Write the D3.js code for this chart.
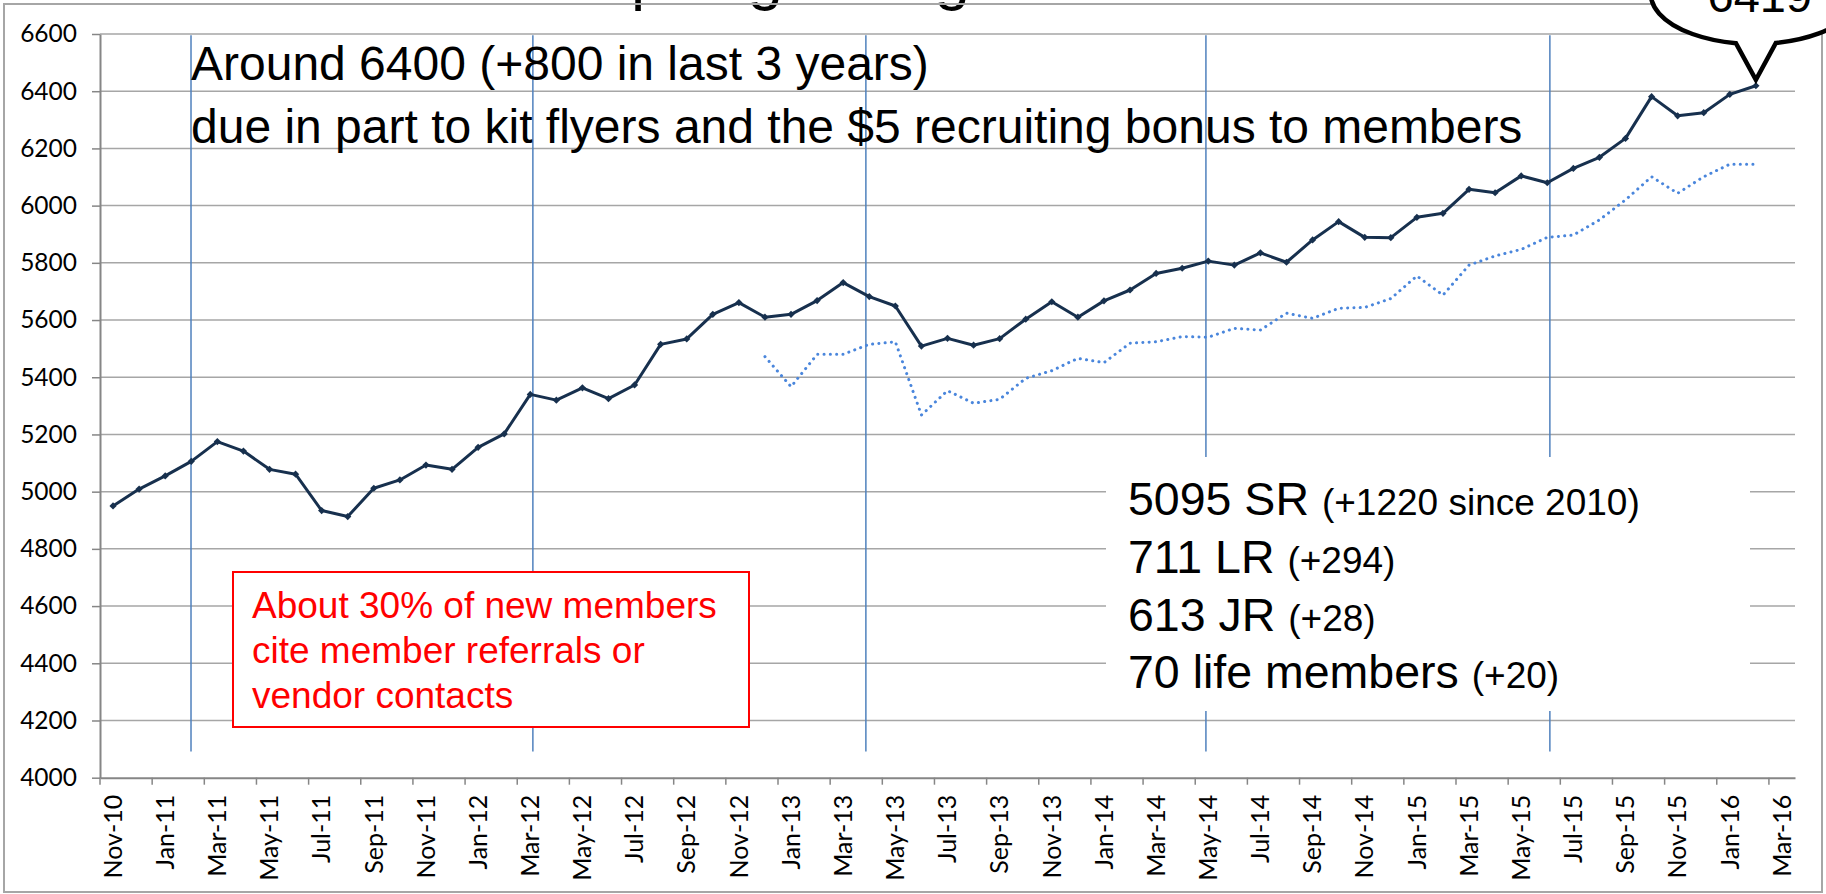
<!DOCTYPE html>
<html>
<head>
<meta charset="utf-8">
<script src="https://cdn.jsdelivr.net/npm/d3@7"></script>
<style>
  html, body { margin: 0; padding: 0; background: #fff; overflow: hidden; }
  svg { display: block; }
  .axis text { font-family: Lato, "Open Sans", sans-serif; fill: #000; }
  .note { font-family: "Liberation Sans", Arial, sans-serif; }
</style>
</head>
<body>
<svg id="chart" width="1826" height="894"></svg>
<script>
// ── Data ──────────────────────────────────
const categories = [
  "Nov-10","Dec-10","Jan-11","Feb-11","Mar-11","Apr-11","May-11","Jun-11","Jul-11","Aug-11","Sep-11","Oct-11",
  "Nov-11","Dec-11","Jan-12","Feb-12","Mar-12","Apr-12","May-12","Jun-12","Jul-12","Aug-12","Sep-12","Oct-12",
  "Nov-12","Dec-12","Jan-13","Feb-13","Mar-13","Apr-13","May-13","Jun-13","Jul-13","Aug-13","Sep-13","Oct-13",
  "Nov-13","Dec-13","Jan-14","Feb-14","Mar-14","Apr-14","May-14","Jun-14","Jul-14","Aug-14","Sep-14","Oct-14",
  "Nov-14","Dec-14","Jan-15","Feb-15","Mar-15","Apr-15","May-15","Jun-15","Jul-15","Aug-15","Sep-15","Oct-15",
  "Nov-15","Dec-15","Jan-16","Feb-16","Mar-16"
];

const tickLabels = [
  "Nov-10","Jan-11","Mar-11","May-11","Jul-11","Sep-11","Nov-11","Jan-12","Mar-12","May-12","Jul-12",
  "Sep-12","Nov-12","Jan-13","Mar-13","May-13","Jul-13","Sep-13","Nov-13","Jan-14","Mar-14","May-14",
  "Jul-14","Sep-14","Nov-14","Jan-15","Mar-15","May-15","Jul-15","Sep-15","Nov-15","Jan-16","Mar-16"
];

const yTicks = [4000,4200,4400,4600,4800,5000,5200,5400,5600,5800,6000,6200,6400,6600];

// total members, Nov-10 .. Feb-16
const members = [
  4950,5009,5055,5106,5175,5142,5078,5061,4934,4913,5012,5041,
  5093,5078,5155,5202,5340,5320,5363,5325,5373,5515,5534,5620,
  5661,5610,5620,5668,5731,5682,5649,5509,5536,5512,5535,5603,
  5664,5610,5667,5705,5763,5781,5806,5792,5835,5802,5880,5944,
  5889,5888,5959,5973,6057,6045,6104,6080,6130,6169,6235,6381,
  6314,6325,6389,6419
];

// dotted series, starts Dec-12
const prevYear = [
  null,null,null,null,null,null,null,null,null,null,null,null,
  null,null,null,null,null,null,null,null,null,null,null,null,
  null,5472,5367,5480,5480,5515,5524,5268,5353,5309,5323,5396,
  5423,5466,5451,5519,5524,5542,5540,5571,5565,5624,5606,5641,
  5644,5675,5754,5687,5792,5824,5847,5889,5897,5950,6020,6101,
  6043,6101,6145,6145
];

// yearly markers (position in months from Nov-10)
const yearMarks = [3.49, 16.6, 29.37, 42.41, 55.6];

const headline = ["Around 6400 (+800 in last 3 years)",
                  "due in part to kit flyers and the $5 recruiting bonus to members"];
const redNote  = ["About 30% of new members", "cite member referrals or", "vendor contacts"];
const stats = [
  ["5095 SR", "(+1220 since 2010)"],
  ["711 LR",  "(+294)"],
  ["613 JR",  "(+28)"],
  ["70 life members", "(+20)"]
];

// ── Layout ────────────────────────────────
const W = 1826, H = 894;
const plot = { left: 100, right: 1795, top: 34, bottom: 777.7 };

const svg = d3.select('#chart');

const x = d3.scaleBand().domain(categories).range([plot.left, plot.right]).padding(0);
const xm = d3.scaleLinear().domain([0, categories.length]).range([plot.left, plot.right]);
const y = d3.scaleLinear().domain([4000, 6600]).range([plot.bottom, plot.top]);
const bw = x.bandwidth();
const cx = i => x(categories[i]) + bw / 2;

// slide title, only its descenders fall inside the crop
svg.append('text').attr('class', 'note')
  .attr('x', 317).attr('y', -2.5)
  .attr('font-size', 63.5).attr('fill', '#000')
  .text('Membership is growing');

// outer frame
svg.append('rect')
  .attr('x', 4).attr('y', 4).attr('width', W - 8).attr('height', H - 6)
  .attr('fill', 'none').attr('stroke', '#a6a6a6').attr('stroke-width', 2);

// ── Grid ──────────────────────────────────
svg.append('g').selectAll('line').data(yTicks.slice(1)).join('line')
  .attr('x1', plot.left).attr('x2', plot.right)
  .attr('y1', d => y(d)).attr('y2', d => y(d))
  .attr('stroke', '#a6a6a6').attr('stroke-width', 1.5);

// ── Axes ──────────────────────────────────
const yAxis = svg.append('g').attr('class', 'axis')
  .attr('transform', `translate(${plot.left},0)`)
  .call(d3.axisLeft(y).tickValues(yTicks).tickFormat(d3.format('d'))
    .tickSize(8).tickSizeOuter(0).tickPadding(15));
yAxis.select('.domain').attr('stroke', '#868686').attr('stroke-width', 2);
yAxis.selectAll('.tick line').attr('stroke', '#868686').attr('stroke-width', 1.5);
yAxis.selectAll('.tick text').attr('font-size', 24.5);

const xAxis = svg.append('g').attr('class', 'axis')
  .attr('transform', `translate(0,${plot.bottom})`)
  .call(d3.axisBottom(x).tickValues(tickLabels).tickSize(7).tickSizeOuter(0));
xAxis.select('.domain').attr('stroke', '#868686').attr('stroke-width', 2);
xAxis.selectAll('.tick line')
  .attr('x1', -bw / 2).attr('x2', -bw / 2)
  .attr('stroke', '#868686').attr('stroke-width', 1.5);
xAxis.selectAll('.tick text')
  .attr('font-size', 25)
  .attr('transform', 'rotate(-90)')
  .attr('text-anchor', 'end')
  .attr('x', -17).attr('y', 0).attr('dy', '0.35em');

// ── Yearly markers ────────────────────────
svg.append('g').selectAll('line').data(yearMarks).join('line')
  .attr('x1', d => xm(d)).attr('x2', d => xm(d))
  .attr('y1', y(6596)).attr('y2', y(4092))
  .attr('stroke', '#4f81bd').attr('stroke-width', 1.5);

// ── Series ────────────────────────────────
const line = d3.line()
  .defined(d => d.v != null)
  .x(d => cx(d.i)).y(d => y(d.v));

const prevPts = prevYear.map((v, i) => ({ i, v }));
svg.append('path').datum(prevPts)
  .attr('d', line)
  .attr('fill', 'none').attr('stroke', '#4a86dc')
  .attr('stroke-width', 3).attr('stroke-linecap', 'round')
  .attr('stroke-dasharray', '0.1 6.2');

const memPts = members.map((v, i) => ({ i, v }));
svg.append('path').datum(memPts)
  .attr('d', line)
  .attr('fill', 'none').attr('stroke', '#17304e')
  .attr('stroke-width', 3).attr('stroke-linejoin', 'round');

svg.append('g').selectAll('path').data(memPts).join('path')
  .attr('transform', d => `translate(${cx(d.i)},${y(d.v)})`)
  .attr('d', 'M0,-3.6 L3.6,0 L0,3.6 L-3.6,0 Z')
  .attr('fill', '#17304e');

// ── Annotations ───────────────────────────
const head = svg.append('text').attr('class', 'note')
  .attr('font-size', 48).attr('fill', '#000');
head.selectAll('tspan').data(headline).join('tspan')
  .attr('x', xm(yearMarks[0]))
  .attr('y', (d, i) => 80 + i * 63)
  .text(d => d);

// red note box
const rb = svg.append('g');
rb.append('rect')
  .attr('x', 233).attr('y', 572).attr('width', 516).attr('height', 155)
  .attr('fill', '#fff').attr('stroke', '#ff0000').attr('stroke-width', 2);
rb.append('text').attr('class', 'note')
  .attr('font-size', 37).attr('fill', '#ff0000')
  .selectAll('tspan').data(redNote).join('tspan')
  .attr('x', 252).attr('y', (d, i) => 617.5 + i * 45)
  .text(d => d);

// stats box
const sb = svg.append('g');
sb.append('rect')
  .attr('x', 1106).attr('y', 457).attr('width', 644).attr('height', 254)
  .attr('fill', '#fff');
stats.forEach((s, i) => {
  const t = sb.append('text').attr('class', 'note').attr('fill', '#000')
    .attr('x', 1128).attr('y', 515 + i * 57.8);
  t.append('tspan').attr('font-size', 46.5).text(s[0] + ' ');
  t.append('tspan').attr('font-size', 37).text(s[1]);
});

// callout bubble on last value
const last = members.length - 1;
const tipX = cx(last), tipY = y(members[last]) - 6;
const ecx = tipX - 1, ecy = -6, rx = 104, ry = 50;
const ey = dx => ecy + ry * Math.sqrt(1 - (dx * dx) / (rx * rx));
const bx1 = tipX - 20, bx2 = tipX + 20;
svg.append('path')
  .attr('d', `M${bx1},${ey(bx1 - ecx)} A${rx},${ry} 0 1 1 ${bx2},${ey(bx2 - ecx)} L${tipX},${tipY} Z`)
  .attr('fill', '#fff').attr('stroke', '#000').attr('stroke-width', 4.5)
  .attr('stroke-linejoin', 'miter');
svg.append('text').attr('class', 'note')
  .attr('x', ecx + 5).attr('y', 12)
  .attr('text-anchor', 'middle').attr('font-size', 47).attr('fill', '#000')
  .text(String(members[last]));
</script>
</body>
</html>
